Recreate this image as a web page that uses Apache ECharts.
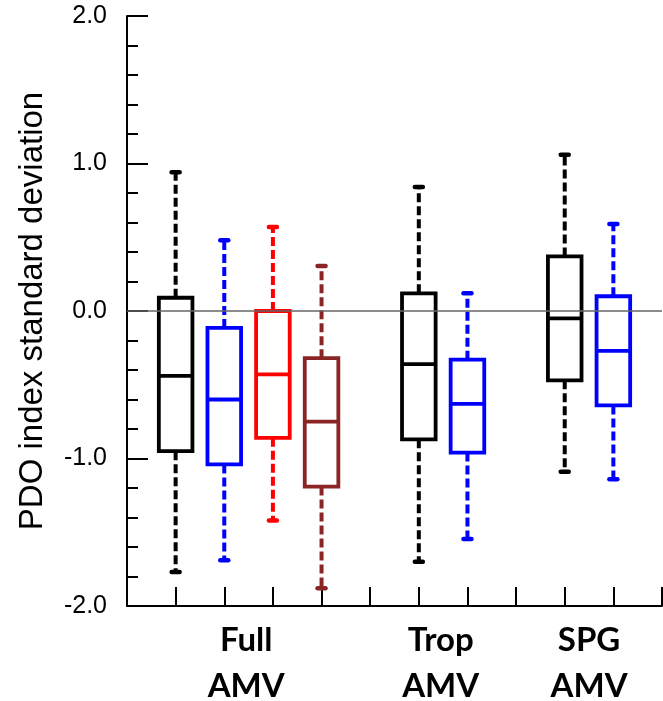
<!DOCTYPE html>
<html>
<head>
<meta charset="utf-8">
<script src="https://cdn.jsdelivr.net/npm/echarts@6/dist/echarts.min.js"></script>
<style>html,body{margin:0;padding:0;background:#fff;}#chart{width:663px;height:701px;}</style>
</head>
<body>
<div id="chart"></div>
<script>
// ---- data ----
const slots       = [1, 2, 3, 4, 6, 7, 9, 10];
const lowWhisker  = [-1.77, -1.69, -1.42, -1.88, -1.70, -1.545, -1.09, -1.14];
const q1          = [-0.95, -1.04, -0.86, -1.19, -0.87, -0.96, -0.47, -0.64];
const median      = [-0.44, -0.60, -0.43, -0.75, -0.36, -0.63, -0.05, -0.27];
const q3          = [0.09, -0.115, 0.0, -0.32, 0.12, -0.33, 0.37, 0.10];
const highWhisker = [0.94, 0.48, 0.57, 0.305, 0.84, 0.12, 1.06, 0.59];
const groupLabels = ['Full\nAMV', 'Trop\nAMV', 'SPG\nAMV'];
const groupLabelAt = [2.45, 6.45, 9.5];
const xTickValues = [1, 2, 3, 4, 5, 6, 7, 8, 9, 10, 11];
const yName = 'PDO index standard deviation';

// ---- styles ----
const boxColors = ['#000000', '#0000ff', '#ff0000', '#8b2525', '#000000', '#0000ff', '#000000', '#0000ff'];

const seriesData = slots.map((s, i) => [s, lowWhisker[i], q1[i], median[i], q3[i], highWhisker[i]]);

const chart = echarts.init(document.getElementById('chart'), null, {renderer: 'canvas'});

function renderBox(params, api) {
  const x = api.value(0);
  const color = boxColors[params.dataIndex];
  const c = v => api.coord([x, v]);
  const cx = c(api.value(3))[0];
  const yMin = c(api.value(1))[1];
  const yQ1 = c(api.value(2))[1];
  const yMed = c(api.value(3))[1];
  const yQ3 = c(api.value(4))[1];
  const yMax = c(api.value(5))[1];
  const hw = 16.8, capHalf = 4, lw = 3.8;
  const dashStyle = {stroke: color, lineWidth: 4, lineDash: [9, 4], fill: null};
  const capStyle = {stroke: color, lineWidth: 4.5, lineCap: 'round', fill: null};
  return {
    type: 'group',
    children: [
      {type: 'line', shape: {x1: cx, y1: yQ3, x2: cx, y2: yMax}, style: dashStyle},
      {type: 'line', shape: {x1: cx, y1: yQ1, x2: cx, y2: yMin}, style: dashStyle},
      {type: 'line', shape: {x1: cx - capHalf, y1: yMax, x2: cx + capHalf, y2: yMax}, style: capStyle},
      {type: 'line', shape: {x1: cx - capHalf, y1: yMin, x2: cx + capHalf, y2: yMin}, style: capStyle},
      {type: 'rect', shape: {x: cx - hw, y: yQ3, width: 2 * hw, height: yQ1 - yQ3},
        style: {fill: null, stroke: color, lineWidth: lw, lineJoin: 'miter'}},
      {type: 'line', shape: {x1: cx - hw, y1: yMed, x2: cx + hw, y2: yMed},
        style: {stroke: color, lineWidth: lw, fill: null}}
    ]
  };
}

const option = {
  animation: false,
  backgroundColor: '#ffffff',
  grid: {left: 127, right: 1, top: 16, bottom: 95, containLabel: false, outerBoundsMode: 'none'},
  xAxis: {
    type: 'value', min: 0, max: 11,
    splitLine: {show: false},
    axisLine: {onZero: false, lineStyle: {color: '#000', width: 2}},
    axisTick: {show: true, inside: true, length: 19, customValues: xTickValues, lineStyle: {color: '#000', width: 2}},
    axisLabel: {
      customValues: groupLabelAt,
      formatter: v => {
        let best = 0;
        groupLabelAt.forEach((g, i) => { if (Math.abs(g - v) < Math.abs(groupLabelAt[best] - v)) best = i; });
        return groupLabels[best];
      },
      margin: 11, color: '#000', fontFamily: 'Lato', fontWeight: 'bold', fontSize: 33, lineHeight: 46
    }
  },
  yAxis: {
    type: 'value', min: -2, max: 2, interval: 1,
    name: yName, nameLocation: 'middle', nameGap: 78,
    nameTextStyle: {fontFamily: '"Liberation Sans", Arial, sans-serif', fontSize: 33, color: '#000'},
    splitLine: {show: false},
    axisLine: {show: true, onZero: false, lineStyle: {color: '#000', width: 2}},
    axisTick: {show: true, inside: true, length: 21, lineStyle: {color: '#000', width: 2}},
    minorTick: {show: true, splitNumber: 5, length: 11, lineStyle: {color: '#000', width: 2}},
    axisLabel: {formatter: v => v.toFixed(1), margin: 20, color: '#000', fontFamily: '"Liberation Sans", Arial, sans-serif', fontSize: 25}
  },
  series: [
    {
      type: 'line', data: [], silent: true, z: 1,
      markLine: {
        silent: true, symbol: 'none', label: {show: false},
        lineStyle: {color: '#666666', width: 1.5, type: 'solid'},
        data: [{yAxis: 0}]
      }
    },
    {
      type: 'custom', z: 3,
      renderItem: renderBox,
      encode: {x: 0, y: [1, 2, 3, 4, 5]},
      data: seriesData
    }
  ]
};
chart.setOption(option);
</script>
</body>
</html>
